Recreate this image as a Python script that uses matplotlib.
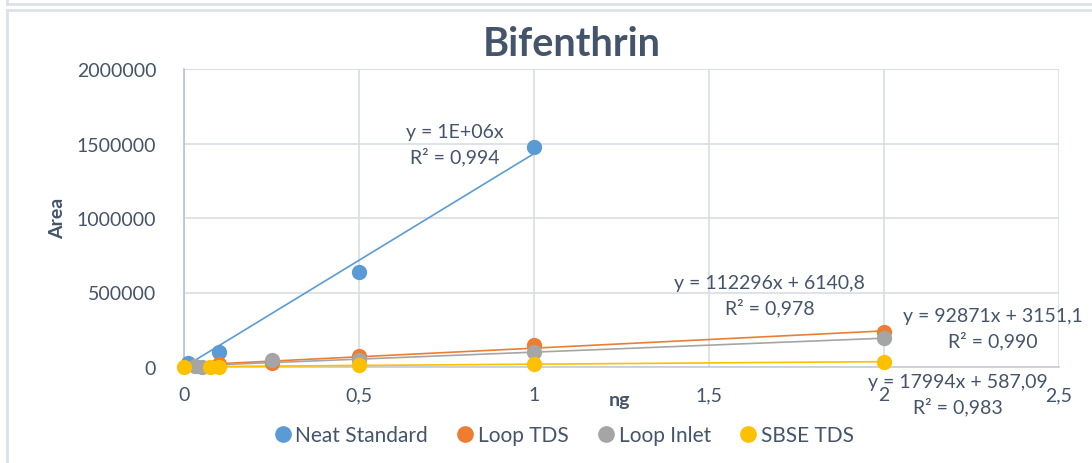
import numpy as np
import matplotlib
matplotlib.use("Agg")
import matplotlib.pyplot as plt
from matplotlib.lines import Line2D

plt.rcParams['font.family'] = ['Lato', 'DejaVu Sans']

# ---- data ----
neat_x = [0.01, 0.1, 0.5, 1.0]
neat_y = [30000, 100000, 637000, 1476000]
tds_x = [0.1, 0.25, 0.5, 1.0, 2.0]
tds_y = [18000, 27000, 74000, 148000, 232000]
inlet_x = [0.03, 0.05, 0.25, 0.5, 1.0, 2.0]
inlet_y = [4000, 2000, 47000, 50000, 100000, 192000]
sbse_x = [0.0, 0.075, 0.1, 0.5, 1.0, 2.0]
sbse_y = [3000, 2000, 3000, 12000, 18000, 36000]

series_names = ["Neat Standard", "Loop TDS", "Loop Inlet", "SBSE TDS"]
colors = ["#5b9bd5", "#ed7d31", "#a5a5a5", "#ffc000"]
eq_texts = ["y = 1E+06x\nR² = 0,994",
            "y = 112296x + 6140,8\nR² = 0,978",
            "y = 92871x + 3151,1\nR² = 0,990",
            "y = 17994x + 587,09\nR² = 0,983"]
eq_pos = [(0.774, 1493000), (1.674, 483000), (2.31, 262000), (2.211, -181000)]
xticks = [0, 0.5, 1, 1.5, 2, 2.5]
xtick_labels = ["0", "0,5", "1", "1,5", "2", "2,5"]
yticks = [0, 500000, 1000000, 1500000, 2000000]
ytick_labels = ["0", "500000", "1000000", "1500000", "2000000"]

txt = "#44546a"
grid = "#d9dde4"

fig = plt.figure(figsize=(10.92, 4.64), dpi=100)
ax = fig.add_axes([184/1092, 1-368/464, (1059-184)/1092, (368-70)/464])

data = [(neat_x, neat_y), (tds_x, tds_y), (inlet_x, inlet_y), (sbse_x, sbse_y)]
handles = []
for i, ((xs, ys), c, name) in enumerate(zip(data, colors, series_names)):
    xs = np.array(xs); ys = np.array(ys)
    if i == 0:
        slope = np.sum(xs*ys)/np.sum(xs*xs)
        fx = np.array([xs.min(), xs.max()])
        fy = slope*fx
    else:
        p = np.polyfit(xs, ys, 1)
        fx = np.array([xs.min(), xs.max()])
        fy = np.polyval(p, fx)
    ax.plot(fx, fy, color=c, lw=1.2, zorder=3, clip_on=False)
    h, = ax.plot(xs, ys, 'o', color=c, ms=10, zorder=4, clip_on=False, label=name)
    handles.append(h)

for t, (x, y) in zip(eq_texts, eq_pos):
    ax.text(x, y, t, ha='center', va='center', fontsize=14, color=txt,
            linespacing=1.45, zorder=6, clip_on=False)

ax.set_xlim(0, 2.5)
ax.set_ylim(0, 2000000)
ax.set_xticks(xticks)
ax.set_xticklabels(xtick_labels)
ax.set_yticks(yticks)
ax.set_yticklabels(ytick_labels)
ax.tick_params(length=0, labelsize=14, labelcolor=txt, pad=14)
ax.tick_params(axis='y', pad=20)
ax.grid(True, color=grid, lw=1.2)
ax.set_axisbelow(True)
for s in ['top', 'right']:
    ax.spines[s].set_visible(False)
ax.spines['left'].set_color("#b8c2cf")
ax.spines['bottom'].set_color("#c4ccd6")
ax.spines['left'].set_linewidth(1.2)
ax.spines['bottom'].set_linewidth(1.2)
ax.axhline(2000000, color=grid, lw=1.2, zorder=0)

fig.text(572/1092, 1-44/464, "Bifenthrin", ha='center', va='center',
         fontsize=28.5, fontweight='bold', color=txt)
fig.text(58/1092, 1-218/464, "Area", rotation=90, ha='center', va='center',
         fontsize=14, fontweight='bold', color=txt)
fig.text(620/1092, 1-401/464, "ng", ha='center', va='center',
         fontsize=14, fontweight='bold', color=txt)

fig.legend(handles=handles, loc='center', bbox_to_anchor=(563/1092, 1-436/464),
           ncol=4, frameon=False, fontsize=15, labelcolor=txt, handletextpad=0.1,
           columnspacing=1.3, handlelength=1.0, markerscale=1.1)

# frames
fc = "#dde2ea"
fig.add_artist(Line2D([7/1092, 1], [1-5/464, 1-5/464], color=fc, lw=2, transform=fig.transFigure))
fig.add_artist(Line2D([7/1092, 7/1092], [1-5/464, 1], color=fc, lw=2, transform=fig.transFigure))
fig.add_artist(Line2D([7/1092, 1], [1-11/464, 1-11/464], color=fc, lw=2, transform=fig.transFigure))
fig.add_artist(Line2D([7/1092, 7/1092], [0, 1-11/464], color=fc, lw=2, transform=fig.transFigure))

fig.savefig("out.png", dpi=100)
